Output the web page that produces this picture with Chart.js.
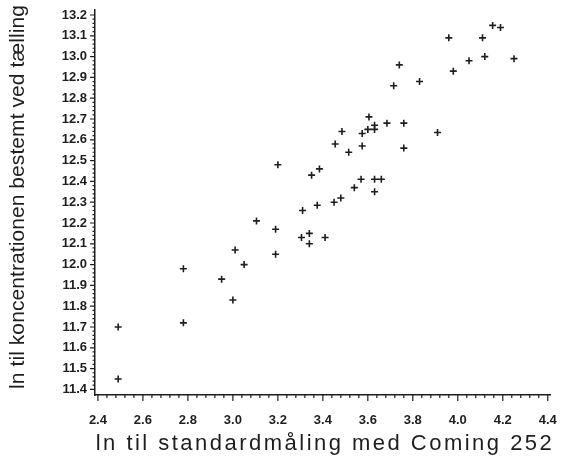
<!DOCTYPE html>
<html>
<head>
<meta charset="utf-8">
<script src="https://cdn.jsdelivr.net/npm/chart.js@4"></script>
<style>
  html, body { margin: 0; padding: 0; background: #fff; }
  #wrap { width: 562px; height: 465px; }
</style>
</head>
<body>
<div id="wrap"><canvas id="scatter"></canvas></div>
<script>
// ln til standardmaaling (x) og ln til koncentration ved taelling (y)
const xValues = [2.49, 2.49, 2.78, 2.78, 2.95, 3.00, 3.01, 3.05, 3.105, 3.19,
                 3.19, 3.20, 3.31, 3.305, 3.34, 3.34, 3.375, 3.41, 3.35, 3.385,
                 3.45, 3.48, 3.54, 3.57, 3.63, 3.66, 3.63, 3.515, 3.455, 3.575,
                 3.76, 3.485, 3.575, 3.60, 3.63, 3.63, 3.605, 3.685, 3.76, 3.91,
                 3.715, 3.74, 3.83, 3.98, 3.96, 4.05, 4.12, 4.11, 4.25, 4.155, 4.19];
const yValues = [11.70, 11.45, 11.98, 11.72, 11.93, 11.83, 12.07, 12.00, 12.21, 12.17,
                 12.05, 12.48, 12.26, 12.13, 12.15, 12.10, 12.285, 12.13, 12.43, 12.46,
                 12.30, 12.32, 12.37, 12.41, 12.41, 12.41, 12.35, 12.54, 12.58, 12.57,
                 12.56, 12.64, 12.63, 12.65, 12.65, 12.67, 12.71, 12.68, 12.68, 12.635,
                 12.86, 12.96, 12.88, 12.93, 13.09, 12.98, 13.00, 13.09, 12.99, 13.15, 13.14];
const xTitle = 'ln til standardmåling med Coming 252';
const yTitle = 'ln til koncentrationen bestemt ved tælling';

const points = xValues.map((x, i) => ({x: x, y: yValues[i]}));
const ink = '#1e1e1e';

// draws minor/major tick marks and the axis titles
const axisDeco = {
    id: 'axisDeco',
    afterDraw(chart) {
        const ctx = chart.ctx;
        const xs = chart.scales.x, ys = chart.scales.y;
        const area = chart.chartArea;
        ctx.save();
        ctx.strokeStyle = ink;
        ctx.lineWidth = 1.2;
        ctx.beginPath();
        for (let k = 0; k <= 50; k++) {
            const v = 2.4 + k * 0.04;
            const px = xs.getPixelForValue(v);
            const len = (k % 5 === 0) ? 6 : 3;
            ctx.moveTo(px, area.bottom);
            ctx.lineTo(px, area.bottom + len);
        }
        for (let k = 0; k <= 90; k++) {
            const v = 11.4 + k * 0.02;
            const py = ys.getPixelForValue(v);
            const len = (k % 5 === 0) ? 5 : 2.5;
            ctx.moveTo(area.left, py);
            ctx.lineTo(area.left - len, py);
        }
        ctx.stroke();

        ctx.fillStyle = ink;
        ctx.textAlign = 'center';
        ctx.textBaseline = 'middle';
        ctx.font = '22px "Liberation Sans", Arial, sans-serif';
        let w = ctx.measureText(xTitle).width;
        ctx.letterSpacing = ((456 - w) / (xTitle.length - 1)).toFixed(2) + 'px';
        ctx.fillText(xTitle, 325, 444);

        ctx.letterSpacing = '0px';
        ctx.font = '21px "Liberation Sans", Arial, sans-serif';
        w = ctx.measureText(yTitle).width;
        ctx.letterSpacing = ((384 - w) / (yTitle.length - 1)).toFixed(2) + 'px';
        ctx.translate(18, 197);
        ctx.rotate(-Math.PI / 2);
        ctx.fillText(yTitle, 0, 0);
        ctx.restore();
    }
};

new Chart(document.getElementById('scatter'), {
    type: 'scatter',
    data: {
        datasets: [{
            data: points,
            pointStyle: 'cross',
            pointRadius: 3.5,
            pointBorderWidth: 1.6,
            borderColor: ink,
            backgroundColor: ink
        }]
    },
    options: {
        responsive: true,
        maintainAspectRatio: false,
        animation: false,
        layout: { padding: { top: 10, right: 12, left: 0, bottom: 0 } },
        plugins: { legend: { display: false }, tooltip: { enabled: false } },
        scales: {
            x: {
                type: 'linear',
                min: 2.387,
                max: 4.41,
                grid: { display: false, drawTicks: true, tickLength: 18 },
                border: { display: true, color: ink, width: 1.5 },
                ticks: {
                    stepSize: 0.2,
                    includeBounds: false,
                    padding: 0,
                    maxRotation: 0,
                    color: ink,
                    font: { family: '"Liberation Sans", Arial, sans-serif', size: 13, weight: 'bold' },
                    callback: (v) => Number(v).toFixed(1)
                },
                afterFit: (s) => { s.height = 70; }
            },
            y: {
                type: 'linear',
                min: 11.373,
                max: 13.224,
                grid: { display: false, drawTicks: true, tickLength: 8 },
                border: { display: true, color: ink, width: 1.5 },
                ticks: {
                    stepSize: 0.1,
                    includeBounds: false,
                    padding: 0,
                    color: ink,
                    font: { family: '"Liberation Sans", Arial, sans-serif', size: 13, weight: 'bold' },
                    callback: (v) => Number(v).toFixed(1)
                },
                afterFit: (s) => { s.width = 95; }
            }
        }
    },
    plugins: [axisDeco]
});
</script>
</body>
</html>
